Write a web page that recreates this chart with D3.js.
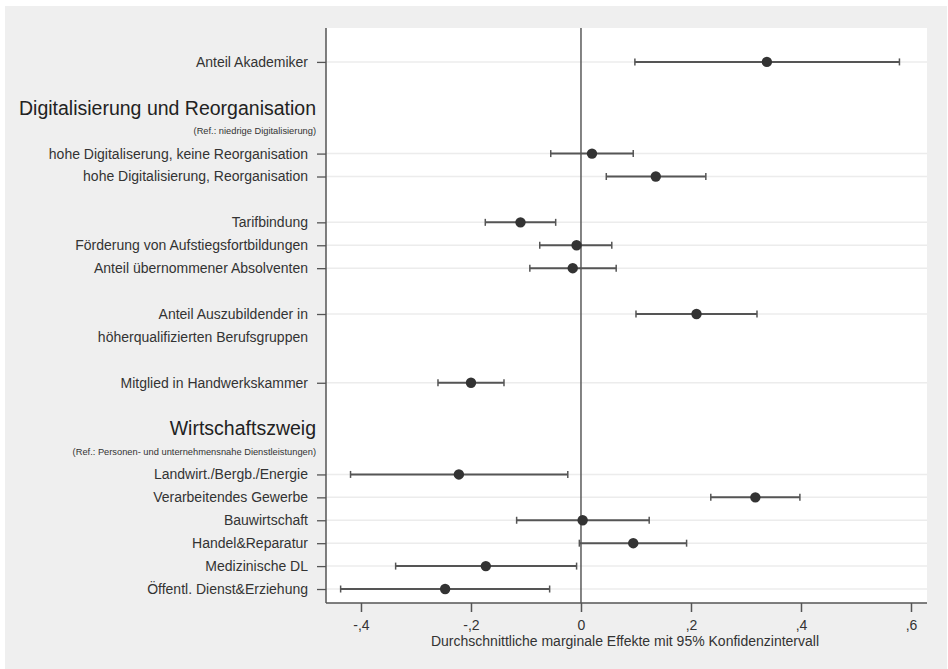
<!DOCTYPE html>
<html>
<head>
<meta charset="utf-8">
<script src="https://cdn.jsdelivr.net/npm/d3@7"></script>
<style>
  html, body { margin: 0; padding: 0; background: #fff; }
  svg { display: block; font-family: "Liberation Sans", Arial, sans-serif; }
</style>
</head>
<body>
<svg id="chart" width="948" height="669"></svg>
<script>
"use strict";

// row index (slot in the plot), label, estimate, lower and upper CI bound
var rowIndex = [0, 4, 5, 7, 8, 9, 11, 14, 18, 19, 20, 21, 22, 23];
var labels = [
  "Anteil Akademiker",
  "hohe Digitaliserung, keine Reorganisation",
  "hohe Digitalisierung, Reorganisation",
  "Tarifbindung",
  "Förderung von Aufstiegsfortbildungen",
  "Anteil übernommener Absolventen",
  "Anteil Auszubildender in",
  "Mitglied in Handwerkskammer",
  "Landwirt./Bergb./Energie",
  "Verarbeitendes Gewerbe",
  "Bauwirtschaft",
  "Handel&Reparatur",
  "Medizinische DL",
  "Öffentl. Dienst&Erziehung"
];
var estimates = [0.338, 0.020, 0.136, -0.110, -0.008, -0.015, 0.210, -0.200, -0.222, 0.317, 0.003, 0.095, -0.173, -0.247];
var lower = [0.098, -0.055, 0.046, -0.174, -0.075, -0.093, 0.100, -0.260, -0.419, 0.236, -0.117, -0.003, -0.337, -0.437];
var upper = [0.579, 0.095, 0.227, -0.046, 0.056, 0.064, 0.320, -0.140, -0.024, 0.398, 0.124, 0.192, -0.008, -0.057];

// extra text rows: headers, reference notes, continuation line
var extraRows = [2, 3, 12, 16, 17];
var extraText = [
  "Digitalisierung und Reorganisation",
  "(Ref.: niedrige Digitalisierung)",
  "höherqualifizierten Berufsgruppen",
  "Wirtschaftszweig",
  "(Ref.: Personen- und unternehmensnahe Dienstleistungen)"
];
var extraKind = ["header", "note", "label", "header", "note"];

var xTicks = [-0.4, -0.2, 0, 0.2, 0.4, 0.6];
var xTitle = "Durchschnittliche marginale Effekte mit 95% Konfidenzintervall";

var svg = d3.select("#chart");
var W = 948, H = 669;
var plot = { left: 326, right: 927, top: 28, bottom: 603 };
var textColor = "#333";

// backgrounds
svg.append("rect").attr("width", W).attr("height", H).attr("fill", "#ffffff");
svg.append("rect").attr("x", 5).attr("y", 6).attr("width", W - 6).attr("height", H - 6)
  .attr("fill", "#efefef");
svg.append("rect")
  .attr("x", plot.left).attr("y", plot.top)
  .attr("width", plot.right - plot.left).attr("height", plot.bottom - plot.top)
  .attr("fill", "#ffffff");

var x = d3.scaleLinear().domain([-0.4636, 0.6291]).range([plot.left, plot.right]);
var y = d3.scaleLinear().domain([-1.48, 23.61]).range([plot.top, plot.bottom]);

var data = labels.map((l, i) => ({
  row: rowIndex[i], label: l, est: estimates[i], lo: lower[i], hi: upper[i]
}));

// grid lines at data rows
svg.append("g").selectAll("line.grid")
  .data(data)
  .enter()
  .append("line")
  .attr("class", "grid")
  .attr("x1", plot.left).attr("x2", plot.right)
  .attr("y1", d => y(d.row)).attr("y2", d => y(d.row))
  .attr("stroke", "#ececec")
  .attr("stroke-width", 1.5);

// zero line
svg.append("line")
  .attr("x1", x(0)).attr("x2", x(0))
  .attr("y1", plot.top).attr("y2", plot.bottom)
  .attr("stroke", "#5a5a5a")
  .attr("stroke-width", 1.5);

// x axis, Stata style labels: -,4 ,2 ...
var xAxis = d3.axisBottom(x)
  .tickValues(xTicks)
  .tickSize(9)
  .tickPadding(8)
  .tickFormat(d => d === 0 ? "0" : (d < 0 ? "-" : "") + "," + Math.round(Math.abs(d) * 10));

var gx = svg.append("g")
  .attr("transform", "translate(0," + plot.bottom + ")")
  .call(xAxis);
gx.select(".domain").remove();
gx.selectAll(".tick line").attr("stroke", "#555").attr("stroke-width", 1.5);
gx.selectAll(".tick text")
  .attr("fill", textColor)
  .attr("font-size", 14)
  .attr("font-family", "Liberation Sans, Arial, sans-serif");

svg.append("line")
  .attr("x1", plot.left).attr("x2", plot.right)
  .attr("y1", plot.bottom).attr("y2", plot.bottom)
  .attr("stroke", "#555").attr("stroke-width", 1.5);

svg.append("text")
  .attr("x", 625).attr("y", 646)
  .attr("text-anchor", "middle")
  .attr("font-size", 14)
  .attr("fill", textColor)
  .text(xTitle);

// y axis
var yAxis = d3.axisLeft(y)
  .tickValues(rowIndex)
  .tickSize(9)
  .tickPadding(9)
  .tickFormat((d, i) => labels[i]);

var gy = svg.append("g")
  .attr("transform", "translate(" + plot.left + ",0)")
  .call(yAxis);
gy.select(".domain").remove();
gy.selectAll(".tick line").attr("stroke", "#555").attr("stroke-width", 1.3);
gy.selectAll(".tick text")
  .attr("fill", textColor)
  .attr("font-size", 14)
  .attr("font-family", "Liberation Sans, Arial, sans-serif");

svg.append("line")
  .attr("x1", plot.left).attr("x2", plot.left)
  .attr("y1", plot.top).attr("y2", plot.bottom)
  .attr("stroke", "#555").attr("stroke-width", 1.5);

// headers and notes
var extras = extraRows.map((r, i) => ({ row: r, text: extraText[i], kind: extraKind[i] }));
svg.append("g").selectAll("text.extra")
  .data(extras)
  .enter()
  .append("text")
  .attr("class", "extra")
  .attr("x", d => d.kind === "label" ? plot.left - 18 : plot.left - 10)
  .attr("y", d => y(d.row))
  .attr("dy", "0.35em")
  .attr("text-anchor", "end")
  .attr("font-size", d => d.kind === "header" ? 19.5 : d.kind === "note" ? 9.3 : 14)
  .attr("fill", d => d.kind === "header" ? "#222" : textColor)
  .text(d => d.text);

// confidence intervals
var ci = svg.append("g").selectAll("g.ci")
  .data(data)
  .enter()
  .append("g")
  .attr("class", "ci");

ci.append("line")
  .attr("x1", d => x(d.lo)).attr("x2", d => x(d.hi))
  .attr("y1", d => y(d.row)).attr("y2", d => y(d.row))
  .attr("stroke", "#555")
  .attr("stroke-width", 2);

ci.selectAll("line.cap")
  .data(d => [{ v: d.lo, row: d.row }, { v: d.hi, row: d.row }])
  .enter()
  .append("line")
  .attr("class", "cap")
  .attr("x1", d => x(d.v)).attr("x2", d => x(d.v))
  .attr("y1", d => y(d.row) - 3.5).attr("y2", d => y(d.row) + 3.5)
  .attr("stroke", "#555")
  .attr("stroke-width", 1.5);

ci.append("circle")
  .attr("cx", d => x(d.est))
  .attr("cy", d => y(d.row))
  .attr("r", 5.2)
  .attr("fill", "#333");
</script>
</body>
</html>
